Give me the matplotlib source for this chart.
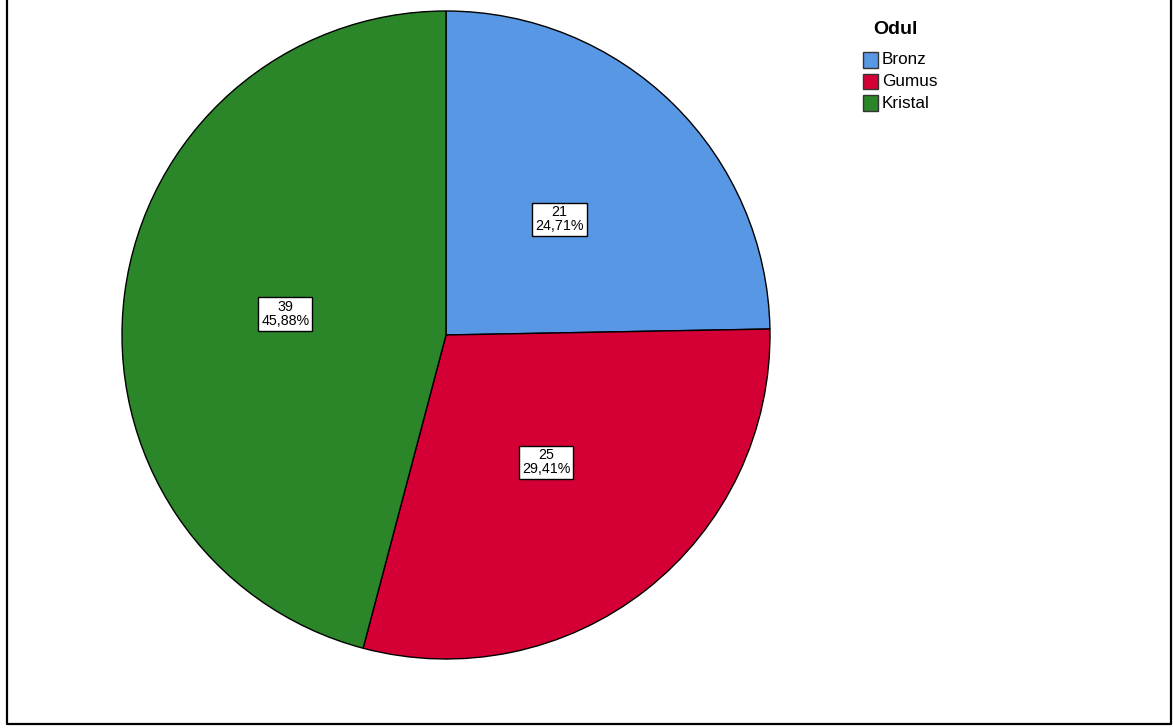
import matplotlib
matplotlib.use("Agg")
import matplotlib.pyplot as plt
from matplotlib.patches import Rectangle
from matplotlib.lines import Line2D
import numpy as np

categories = ["Bronz", "Gumus", "Kristal"]
counts = [21, 25, 39]
percent_labels = ["24,71%", "29,41%", "45,88%"]
colors = ["#5797E4", "#D40035", "#2A8629"]
legend_title = "Odul"

plt.rcParams['font.family'] = ['Liberation Sans', 'DejaVu Sans']

W, H = 1173, 728
fig = plt.figure(figsize=(W / 100, H / 100), dpi=100)

cx, cy, R = 446, 335, 324
half = 340
ax = fig.add_axes([(cx - half) / W, (H - cy - half) / H, 2 * half / W, 2 * half / H])

wedges, _ = ax.pie(counts, colors=colors, startangle=90, counterclock=False,
                   radius=1.0, wedgeprops=dict(edgecolor='black', linewidth=1.0))
lim = half / R
ax.set_xlim(-lim, lim)
ax.set_ylim(-lim, lim)
ax.set_aspect('equal')
ax.axis('off')

total = sum(counts)
ang = 90.0
for c, p in zip(counts, percent_labels):
    span = 360.0 * c / total
    mid = np.deg2rad(ang - span / 2)
    ang -= span
    ax.text(0.5 * np.cos(mid), 0.5 * np.sin(mid), f"{c}\n{p}", ha='center', va='center',
            fontsize=10.3, linespacing=1.0,
            bbox=dict(boxstyle='square,pad=0.2', facecolor='white', edgecolor='black', linewidth=1))

# legend drawn in figure pixel coordinates
def fx(x):
    return x / W

def fy(y):
    return 1 - y / H

fig.text(fx(895), fy(30), legend_title, ha='center', va='center', fontsize=14,
         fontweight='bold')
sq = 15
row_y = [60, 81.5, 103]
for col, lab, yc in zip(colors, categories, row_y):
    fig.add_artist(Rectangle((fx(863), fy(yc + sq / 2)), sq / W, sq / H, transform=fig.transFigure,
                             facecolor=col, edgecolor='#333333', linewidth=1))
    fig.text(fx(882), fy(yc), lab, ha='left', va='center', fontsize=12.3)

# outer frame (left, bottom, right)
fx0, fx1, fyb = 7 / W, 1171 / W, 1 - 724 / H
fig.add_artist(Line2D([fx0, fx0, fx1, fx1], [1, fyb, fyb, 1], transform=fig.transFigure,
                      color='black', linewidth=1.6))

fig.savefig("out.png", dpi=100, facecolor='white')
